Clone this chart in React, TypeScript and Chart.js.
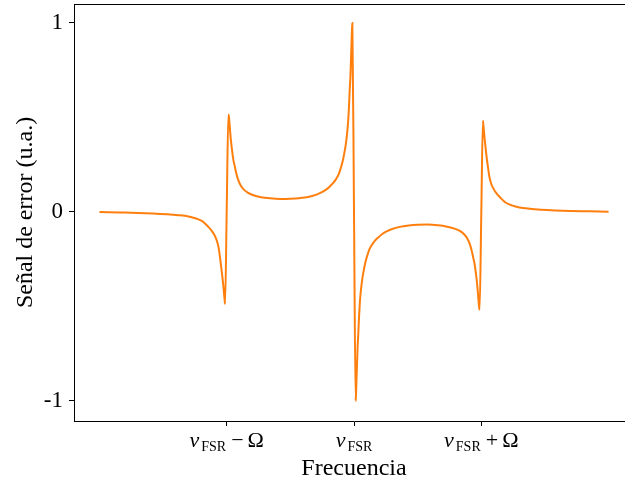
import React, { useEffect, useRef } from 'react';
import { Chart, registerables } from 'chart.js';

Chart.register(...registerables);

// Detuning in units of the modulation frequency Ω, centred on ν_FSR
const frequency = [
  -2.0, -1.85, -1.7, -1.58, -1.47, -1.38, -1.3, -1.24, -1.19, -1.15, -1.12, -1.1, -1.08, -1.065, -1.052, -1.042,
  -1.033, -1.026, -1.02, -1.016, -1.013,
  -1.0,
  -0.987, -0.983, -0.979, -0.975, -0.97, -0.964, -0.957, -0.948, -0.938, -0.925, -0.91, -0.89, -0.865, -0.835,
  -0.79, -0.73, -0.66, -0.58, -0.5, -0.43, -0.36, -0.3, -0.26, -0.22, -0.19, -0.165, -0.14, -0.12, -0.105,
  -0.09, -0.075, -0.065, -0.055, -0.047, -0.04, -0.033, -0.028, -0.024, -0.02, -0.016, -0.013,
  0.0,
  0.013, 0.016, 0.02, 0.024, 0.028, 0.033, 0.04, 0.047, 0.055, 0.065, 0.075, 0.09, 0.105, 0.12, 0.14, 0.165,
  0.19, 0.22, 0.26, 0.3, 0.36, 0.43, 0.5, 0.58, 0.66, 0.73, 0.79, 0.835, 0.865, 0.89, 0.91, 0.925, 0.938,
  0.948, 0.957, 0.964, 0.97, 0.975, 0.979, 0.983, 0.987,
  1.0,
  1.013, 1.016, 1.02, 1.026, 1.033, 1.042, 1.052, 1.065, 1.08, 1.1, 1.12, 1.15, 1.19, 1.24, 1.3, 1.38, 1.47,
  1.58, 1.7, 1.85, 2.0,
];

const errorSignal = [
  -0.001, -0.003, -0.005, -0.008, -0.012, -0.017, -0.024, -0.035, -0.05, -0.075, -0.098, -0.118, -0.148, -0.185, -0.245, -0.3,
  -0.35, -0.395, -0.44, -0.468, -0.487,
  0.015,
  0.515, 0.505, 0.475, 0.44, 0.4, 0.36, 0.32, 0.275, 0.245, 0.205, 0.17, 0.14, 0.118, 0.102,
  0.088, 0.078, 0.072, 0.069, 0.07, 0.073, 0.079, 0.09, 0.102, 0.118, 0.135, 0.152, 0.175, 0.2, 0.23,
  0.265, 0.315, 0.355, 0.41, 0.47, 0.55, 0.655, 0.72, 0.8, 0.88, 0.96, 1.0,
  0.0,
  -1.0, -0.96, -0.88, -0.8, -0.72, -0.655, -0.55, -0.47, -0.41, -0.355, -0.315, -0.265, -0.23, -0.2, -0.175, -0.152,
  -0.135, -0.118, -0.102, -0.09, -0.079, -0.072, -0.068, -0.067, -0.071, -0.078, -0.088, -0.102, -0.118, -0.14, -0.17, -0.205, -0.245,
  -0.278, -0.32, -0.36, -0.4, -0.44, -0.475, -0.505, -0.517,
  -0.015,
  0.483, 0.462, 0.435, 0.39, 0.345, 0.29, 0.24, 0.182, 0.145, 0.118, 0.098, 0.075, 0.05, 0.035, 0.024, 0.017, 0.012,
  0.008, 0.005, 0.003, 0.001,
];

const xTickValues = [-1, 0, 1];
const xTickBase = ['ν', 'ν', 'ν'];
const xTickSub = ['FSR', 'FSR', 'FSR'];
const xTickOp = ['−', '', '+'];
const xTickTail = ['Ω', '', 'Ω'];

const yTickValues = [-1, 0, 1];
const yTickLabels = ['-1', '0', '1'];

const xTitle = 'Frecuencia';
const yTitle = 'Señal de error (u.a.)';

const FONT = '"Liberation Serif", "Times New Roman", serif';

const framePlugin = {
  id: 'frameAndXLabels',
  afterDraw(chart: any) {
    const { ctx, chartArea, scales } = chart;
    const xs = scales.x;
    ctx.save();
    ctx.fillStyle = '#000';
    const top = Math.round(chartArea.top);
    const right = Math.round(chartArea.right);
    // top and right spines
    ctx.fillRect(Math.round(chartArea.left), top, right - Math.round(chartArea.left) + 1, 1);
    ctx.fillRect(right, top, 1, Math.round(chartArea.bottom) - top + 1);

    ctx.textBaseline = 'alphabetic';
    ctx.textAlign = 'left';
    const baseY = chartArea.bottom + 25.5;
    xTickValues.forEach((v, i) => {
      const segs: any[] = [
        { t: xTickBase[i], f: `italic 22px ${FONT}`, dy: 0, gap: 0 },
        { t: xTickSub[i], f: `14px ${FONT}`, dy: 4, gap: 2 },
      ];
      if (xTickOp[i]) {
        segs.push({ t: xTickOp[i], f: `22px ${FONT}`, dy: 0, gap: 5 });
        segs.push({ t: xTickTail[i], f: `22px ${FONT}`, dy: 0, gap: 4 });
      }
      let total = 0;
      segs.forEach((s) => {
        ctx.font = s.f;
        s.w = ctx.measureText(s.t).width;
        total += s.gap + s.w;
      });
      let cx = xs.getPixelForValue(v) - total / 2;
      segs.forEach((s) => {
        cx += s.gap;
        ctx.font = s.f;
        ctx.fillText(s.t, cx, baseY + s.dy);
        cx += s.w;
      });
    });
    ctx.restore();
  },
};

export default function App() {
  const canvasRef = useRef<HTMLCanvasElement | null>(null);

  useEffect(() => {
    const canvas = canvasRef.current;
    if (!canvas) return;
    const chart = new Chart(canvas, {
      type: 'line',
      data: {
        datasets: [
          {
            data: frequency.map((f, i) => ({ x: f, y: errorSignal[i] })),
            borderColor: '#ff7f0e',
            backgroundColor: '#ff7f0e',
            borderWidth: 2,
            pointRadius: 0,
            fill: false,
            cubicInterpolationMode: 'monotone',
          },
        ],
      },
      options: {
        responsive: false,
        animation: false,
        devicePixelRatio: 1,
        layout: { padding: { left: 0, top: 4, right: 6, bottom: 0 } },
        plugins: { legend: { display: false }, tooltip: { enabled: false } },
        scales: {
          x: {
            type: 'linear',
            min: -2.2,
            max: 2.2,
            afterBuildTicks: (scale: any) => {
              scale.ticks = xTickValues.map((v) => ({ value: v }));
            },
            afterFit: (scale: any) => {
              scale.height = 64;
              scale.paddingLeft = 0;
              scale.paddingRight = 0;
            },
            ticks: { display: false },
            grid: {
              display: true,
              drawOnChartArea: false,
              drawTicks: true,
              tickLength: 5,
              tickColor: '#000',
              tickWidth: 1,
            },
            border: { display: true, color: '#000', width: 1 },
            title: {
              display: true,
              text: xTitle,
              color: '#000',
              font: { family: FONT, size: 24 },
              padding: { top: 0, bottom: 2 },
            },
          },
          y: {
            type: 'linear',
            min: -1.106,
            max: 1.1,
            afterBuildTicks: (scale: any) => {
              scale.ticks = yTickValues.map((v) => ({ value: v }));
            },
            afterFit: (scale: any) => {
              scale.width = 74;
              scale.paddingTop = 0;
              scale.paddingBottom = 0;
            },
            ticks: {
              color: '#000',
              font: { family: FONT, size: 23 },
              padding: 6,
              callback: (value: any) => {
                const idx = yTickValues.indexOf(Number(value));
                return idx >= 0 ? yTickLabels[idx] : '';
              },
            },
            grid: {
              display: true,
              drawOnChartArea: false,
              drawTicks: true,
              tickLength: 5,
              tickColor: '#000',
              tickWidth: 1,
            },
            border: { display: true, color: '#000', width: 1 },
            title: {
              display: true,
              text: yTitle,
              color: '#000',
              font: { family: FONT, size: 24 },
              padding: { top: 11, bottom: 0 },
            },
          },
        },
      },
      plugins: [framePlugin],
    } as any);
    return () => chart.destroy();
  }, []);

  return (
    <div
      style={{
        position: 'fixed',
        left: 0,
        top: 0,
        width: 625,
        height: 485,
        overflow: 'hidden',
        background: '#fff',
      }}
    >
      <canvas ref={canvasRef} width={640} height={485} style={{ display: 'block' }} />
    </div>
  );
}
